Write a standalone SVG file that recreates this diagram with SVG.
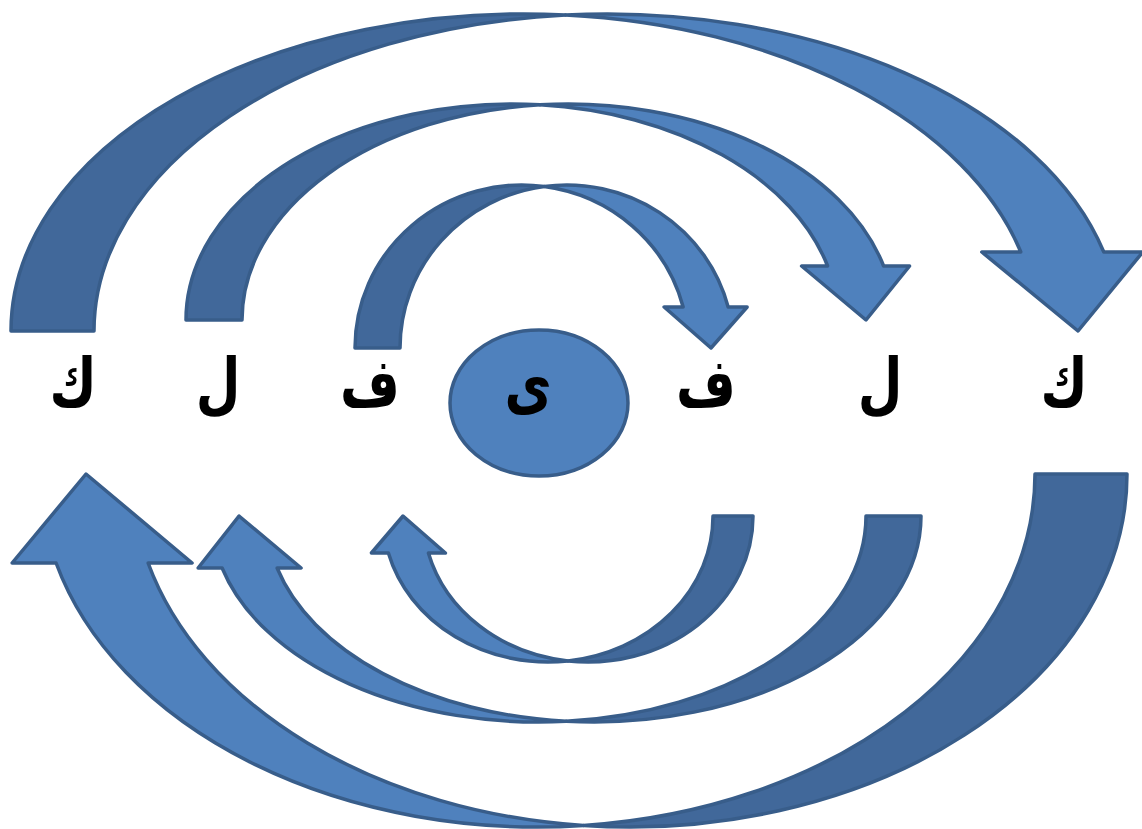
<svg xmlns="http://www.w3.org/2000/svg" width="1142" height="829" viewBox="0 0 1142 829">
<style>
.back{fill:#41689a;stroke:#385d8a;stroke-width:3.5;stroke-linejoin:round}
.front{fill:#4f81bd;stroke:#385d8a;stroke-width:3.5;stroke-linejoin:round}
.lbl{font-family:"DejaVu Sans",sans-serif;font-weight:bold;font-size:56px;fill:#000;text-anchor:middle}
</style>
<rect width="1142" height="829" fill="#fff"/>
<g id="connectors">
  <g id="top-outer">
    <path class="back" d="M11,331 A513,317 0 0 1 565.5,15 A513,317 0 0 0 94,331 Z"/>
    <path class="front" d="M565.5,15 A513,317 0 0 1 1103.8,252 L1142.8,252 L1078,331 L981.8,252 L1020.8,252 A513,317 0 0 0 565.5,15 Z"/>
  </g>
  <g id="top-middle">
    <path class="back" d="M186,320 A326,216 0 0 1 540,104.8 A326,216 0 0 0 242,320 Z"/>
    <path class="front" d="M540,104.8 A326,216 0 0 1 883.6,266 L909.6,266 L866,320 L801.6,266 L827.6,266 A326,216 0 0 0 540,104.8 Z"/>
  </g>
  <g id="top-inner">
    <path class="back" d="M355,348 A166.75,163 0 0 1 544.25,186.5 A166.75,163 0 0 0 400,348 Z"/>
    <path class="front" d="M544.25,186.5 A166.75,163 0 0 1 728.15,307 L747.15,307 L711,348 L664.15,307 L683.15,307 A166.75,163 0 0 0 544.25,186.5 Z"/>
  </g>
  <g id="bottom-outer">
    <path class="back" d="M1127,474 A497.5,353 0 0 1 583.5,825.5 A497.5,353 0 0 0 1035,474 Z"/>
    <path class="front" d="M583.5,825.5 A497.5,353 0 0 1 56.1,563 L12.1,563 L86,474 L192.1,563 L148.1,563 A497.5,353 0 0 0 583.5,825.5 Z"/>
  </g>
  <g id="bottom-middle">
    <path class="back" d="M921,516 A327.25,206 0 0 1 566.25,721.3 A327.25,206 0 0 0 866,516 Z"/>
    <path class="front" d="M566.25,721.3 A327.25,206 0 0 1 222.1,568 L198.1,568 L239,516 L301.1,568 L277.1,568 A327.25,206 0 0 0 566.25,721.3 Z"/>
  </g>
  <g id="bottom-inner">
    <path class="back" d="M753,516 A165,146 0 0 1 568,660.9 A165,146 0 0 0 713,516 Z"/>
    <path class="front" d="M568,660.9 A165,146 0 0 1 388.4,553 L371.4,553 L403,516 L445.4,553 L428.4,553 A165,146 0 0 0 568,660.9 Z"/>
  </g>
</g>
<g id="node-center">
  <ellipse cx="539" cy="403" rx="89" ry="73" fill="#4f81bd" stroke="#385d8a" stroke-width="3.5"/>
  <text class="lbl" transform="translate(528,408) scale(0.92,1.2)">ى</text>
</g>
<g id="node-kaf-left"><text class="lbl" transform="translate(73,406) scale(0.92,1.2)">ك</text></g>
<g id="node-lam-left"><text class="lbl" transform="translate(218,406) scale(0.92,1.2)">ل</text></g>
<g id="node-fa-left"><text class="lbl" transform="translate(370,406) scale(0.92,1.2)">ف</text></g>
<g id="node-fa-right"><text class="lbl" transform="translate(706,406) scale(0.92,1.2)">ف</text></g>
<g id="node-lam-right"><text class="lbl" transform="translate(880,406) scale(0.92,1.2)">ل</text></g>
<g id="node-kaf-right"><text class="lbl" transform="translate(1064,406) scale(0.92,1.2)">ك</text></g>
</svg>
